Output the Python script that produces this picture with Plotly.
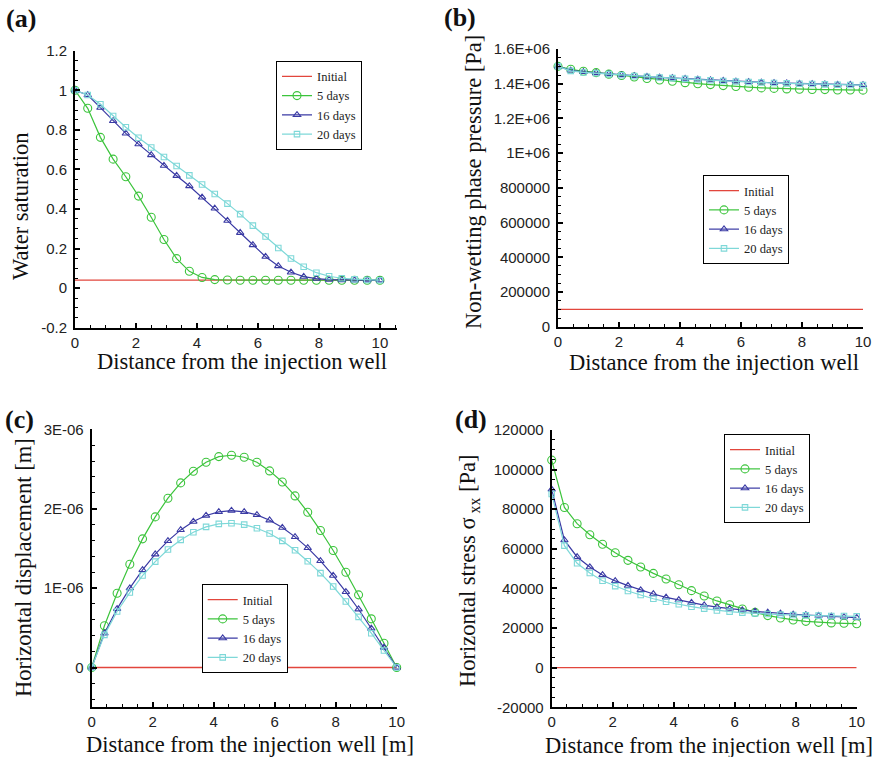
import plotly.graph_objects as go

W, H = 875, 757
SERIF = "Liberation Serif, Times New Roman, serif"
SANS = "Liberation Sans, Arial, sans-serif"

# ---------------- data ----------------
distance = [0.0, 0.417, 0.833, 1.25, 1.667, 2.083, 2.5, 2.917, 3.333, 3.75, 4.167, 4.583,
            5.0, 5.417, 5.833, 6.25, 6.667, 7.083, 7.5, 7.917, 8.333, 8.75, 9.167, 9.583, 10.0]
initial_x = [0.0, 10.0]
series_names = ["Initial", "5 days", "16 days", "20 days"]

# (a) water saturation
sat_initial = [0.04, 0.04]
sat_5 = [1.0, 0.909, 0.762, 0.652, 0.563, 0.465, 0.358, 0.246, 0.149, 0.085, 0.054, 0.043,
         0.041, 0.040, 0.040, 0.040, 0.040, 0.040, 0.040, 0.040, 0.040, 0.040, 0.040, 0.040, 0.040]
sat_16 = [1.0, 0.976, 0.912, 0.845, 0.782, 0.728, 0.673, 0.619, 0.568, 0.516, 0.459, 0.403,
          0.341, 0.280, 0.218, 0.159, 0.112, 0.080, 0.058, 0.048, 0.043, 0.041, 0.040, 0.040, 0.040]
sat_20 = [1.0, 0.976, 0.929, 0.870, 0.813, 0.760, 0.711, 0.663, 0.617, 0.570, 0.524, 0.476,
          0.427, 0.374, 0.316, 0.261, 0.203, 0.150, 0.108, 0.078, 0.060, 0.050, 0.045, 0.041, 0.040]

# (b) non-wetting phase pressure [Pa]
p_initial = [1.0e5, 1.0e5]
p_5 = [1.500e6, 1.483e6, 1.472e6, 1.464e6, 1.455e6, 1.447e6, 1.439e6, 1.430e6, 1.421e6, 1.414e6,
       1.406e6, 1.400e6, 1.395e6, 1.389e6, 1.384e6, 1.380e6, 1.376e6, 1.373e6, 1.370e6, 1.368e6,
       1.367e6, 1.366e6, 1.364e6, 1.364e6, 1.363e6]
p_16 = [1.500e6, 1.477e6, 1.468e6, 1.462e6, 1.456e6, 1.450e6, 1.445e6, 1.441e6, 1.437e6, 1.433e6,
        1.429e6, 1.425e6, 1.421e6, 1.417e6, 1.414e6, 1.411e6, 1.408e6, 1.405e6, 1.403e6, 1.401e6,
        1.399e6, 1.397e6, 1.395e6, 1.394e6, 1.393e6]
p_20 = [1.500e6, 1.474e6, 1.465e6, 1.460e6, 1.455e6, 1.449e6, 1.444e6, 1.440e6, 1.436e6, 1.432e6,
        1.428e6, 1.424e6, 1.420e6, 1.416e6, 1.413e6, 1.410e6, 1.407e6, 1.404e6, 1.402e6, 1.400e6,
        1.398e6, 1.396e6, 1.394e6, 1.393e6, 1.392e6]

# (c) horizontal displacement [m]
u_initial = [0.0, 0.0]
u_5 = [0.0, 0.525e-6, 0.936e-6, 1.301e-6, 1.620e-6, 1.897e-6, 2.132e-6, 2.325e-6, 2.472e-6,
       2.585e-6, 2.656e-6, 2.673e-6, 2.648e-6, 2.585e-6, 2.476e-6, 2.337e-6, 2.161e-6, 1.956e-6,
       1.725e-6, 1.473e-6, 1.200e-6, 0.915e-6, 0.613e-6, 0.306e-6, 0.0]
u_16 = [0.0, 0.432e-6, 0.739e-6, 0.999e-6, 1.230e-6, 1.427e-6, 1.595e-6, 1.733e-6, 1.838e-6,
        1.914e-6, 1.960e-6, 1.977e-6, 1.960e-6, 1.922e-6, 1.855e-6, 1.762e-6, 1.645e-6, 1.506e-6,
        1.343e-6, 1.158e-6, 0.953e-6, 0.734e-6, 0.491e-6, 0.252e-6, 0.0]
u_20 = [0.0, 0.411e-6, 0.705e-6, 0.944e-6, 1.158e-6, 1.334e-6, 1.486e-6, 1.607e-6, 1.704e-6,
        1.771e-6, 1.809e-6, 1.817e-6, 1.800e-6, 1.754e-6, 1.687e-6, 1.595e-6, 1.477e-6, 1.339e-6,
        1.188e-6, 1.020e-6, 0.831e-6, 0.638e-6, 0.432e-6, 0.214e-6, 0.0]

# (d) horizontal stress sigma_xx [Pa]
s_initial = [0.0, 0.0]
s_5 = [104800, 80900, 72700, 67100, 62300, 58000, 54200, 50800, 47600, 44800, 41900, 38900,
       36200, 33700, 31800, 29600, 27900, 26300, 25100, 24100, 23400, 22900, 22600, 22400, 22200]
s_16 = [90000, 64400, 55900, 50800, 46800, 43800, 41400, 39200, 37200, 35500, 34200, 32800,
        31600, 30600, 29800, 29100, 28400, 27900, 27400, 26900, 26600, 26300, 25900, 25600, 25200]
s_20 = [87700, 61600, 52700, 47800, 43900, 41200, 38700, 36700, 34800, 33300, 32000, 30800,
        29800, 28900, 28300, 27800, 27400, 27100, 26800, 26600, 26400, 26300, 26100, 26100, 25900]

# tick labels
x_tickvals = [0, 2, 4, 6, 8, 10]
x_ticktext = ["0", "2", "4", "6", "8", "10"]
a_tickvals = [1.2, 1.0, 0.8, 0.6, 0.4, 0.2, 0.0, -0.2]
a_ticktext = ["1.2", "1", "0.8", "0.6", "0.4", "0.2", "0", "-0.2"]
b_tickvals = [1.6e6, 1.4e6, 1.2e6, 1.0e6, 8e5, 6e5, 4e5, 2e5, 0]
b_ticktext = ["1.6E+06", "1.4E+06", "1.2E+06", "1E+06", "800000", "600000", "400000", "200000", "0"]
c_tickvals = [3e-6, 2e-6, 1e-6, 0]
c_ticktext = ["3E-06", "2E-06", "1E-06", "0"]
d_tickvals = [120000, 100000, 80000, 60000, 40000, 20000, 0, -20000]
d_ticktext = ["120000", "100000", "80000", "60000", "40000", "20000", "0", "-20000"]

# ---------------- styles ----------------
COL = {"Initial": "#e2463c", "5 days": "#3cc43c", "16 days": "#3a3aa4", "20 days": "#7ed8d8"}
SYM = {"5 days": ("circle-open", 8), "16 days": ("triangle-up-open", 6.5), "20 days": ("square-open", 5.5)}


def px_x(p):
    return p / W


def px_y(p):
    return 1 - p / H


fig = go.Figure()

panels = [
    ("", sat_initial, sat_5, sat_16, sat_20, "legend"),
    ("2", p_initial, p_5, p_16, p_20, "legend2"),
    ("3", u_initial, u_5, u_16, u_20, "legend3"),
    ("4", s_initial, s_5, s_16, s_20, "legend4"),
]

for key, ini, d5, d16, d20, leg in panels:
    xa, ya = "x" + key, "y" + key
    fig.add_trace(go.Scatter(x=initial_x, y=ini, mode="lines", name=series_names[0],
                             line=dict(color=COL["Initial"], width=1.3),
                             xaxis=xa, yaxis=ya, legend=leg, cliponaxis=False))
    for nm, vals in zip(series_names[1:], (d5, d16, d20)):
        sym, sz = SYM[nm]
        fig.add_trace(go.Scatter(x=distance, y=vals, mode="lines+markers", name=nm,
                                 line=dict(color=COL[nm], width=1.2),
                                 marker=dict(symbol=sym, size=sz, color=COL[nm],
                                             line=dict(width=1.1, color=COL[nm])),
                                 xaxis=xa, yaxis=ya, legend=leg, cliponaxis=False))


def axis(domain, rng, tickvals, ticktext, minor_dtick, anchor, is_y):
    d = dict(domain=domain, range=rng, tickmode="array", tickvals=tickvals, ticktext=ticktext,
             ticks="inside", ticklen=5, tickwidth=1.5, tickcolor="black",
             showline=True, linecolor="black", linewidth=2, showgrid=False, zeroline=False,
             automargin=False,
             tickfont=dict(family=SANS, size=15, color="#222"), anchor=anchor, fixedrange=True,
             minor=dict(ticks="inside", ticklen=3, tickwidth=1.2, tickcolor="black",
                        tickmode="linear", tick0=0, dtick=minor_dtick, showgrid=False))
    if is_y:
        d["ticklabelstandoff"] = 3
    return d


# pixel frames of each panel: (left, right, top, bottom)
fa = (75, 397, 50.7, 327.7)
fb = (558, 863, 49, 326.7)
fc = (91.7, 396.7, 429.3, 707.2)
fd = (551.7, 856.7, 430, 707.3)


def dom_x(f):
    return [px_x(f[0]), px_x(f[1])]


def dom_y(f):
    return [px_y(f[3]), px_y(f[2])]


fig.update_layout(
    xaxis=axis(dom_x(fa), [0, 10.56], x_tickvals, x_ticktext, 0.5, "y", False),
    yaxis=axis(dom_y(fa), [-0.2, 1.2], a_tickvals, a_ticktext, 0.05, "x", True),
    xaxis2=axis(dom_x(fb), [0, 10], x_tickvals, x_ticktext, 0.5, "y2", False),
    yaxis2=axis(dom_y(fb), [0, 1.6e6], b_tickvals, b_ticktext, 50000, "x2", True),
    xaxis3=axis(dom_x(fc), [0, 10], x_tickvals, x_ticktext, 0.5, "y3", False),
    yaxis3=axis(dom_y(fc), [-0.5e-6, 3e-6], c_tickvals, c_ticktext, 0.2e-6, "x3", True),
    xaxis4=axis(dom_x(fd), [0, 10], x_tickvals, x_ticktext, 0.5, "y4", False),
    yaxis4=axis(dom_y(fd), [-20000, 120000], d_tickvals, d_ticktext, 5000, "x4", True),
)


def legend_at(left, top):
    return dict(x=px_x(left), y=px_y(top), xanchor="left", yanchor="top",
                bgcolor="white", bordercolor="black", borderwidth=1,
                font=dict(family=SERIF, size=12.5, color="#222"), tracegroupgap=0)


fig.update_layout(
    width=W, height=H, margin=dict(l=0, r=0, t=0, b=0, autoexpand=False),
    paper_bgcolor="white", plot_bgcolor="white",
    legend=legend_at(276, 60.7), legend2=legend_at(703, 175),
    legend3=legend_at(201.7, 584), legend4=legend_at(724, 434),
)

TITLE_FONT = dict(family=SERIF, size=22.5, color="#111")
ann = []


def text_at(txt, cx, cy, angle=0, font=TITLE_FONT):
    ann.append(dict(text=txt, x=px_x(cx), y=px_y(cy), xref="paper", yref="paper",
                    xanchor="center", yanchor="middle", showarrow=False, textangle=angle,
                    font=font))


xt1 = "Distance from the injection well"
xt2 = "Distance from the injection well [m]"
text_at(xt1, 242, 361)
text_at("Water saturation", 21, 206, -90)
text_at(xt1, 714, 362)
text_at("Non-wetting phase pressure [Pa]", 474, 182, -90)
text_at(xt2, 250, 744)
text_at("Horizontal displacement [m]", 23, 568, -90)
text_at(xt2, 709, 745)
text_at("Horizontal stress σ<sub> xx</sub> [Pa]", 469, 571, -90)

LABEL_FONT = dict(family=SERIF, size=26, color="#111")
for lab, cx, cy in (("(a)", 21, 19), ("(b)", 460, 18), ("(c)", 19, 419), ("(d)", 471, 419)):
    text_at("<b>" + lab + "</b>", cx, cy, 0, LABEL_FONT)

fig.update_layout(annotations=ann)
fig.write_html("out.html", config={"displayModeBar": False},
               post_script="document.body.style.margin='0';document.body.style.padding='0';")
